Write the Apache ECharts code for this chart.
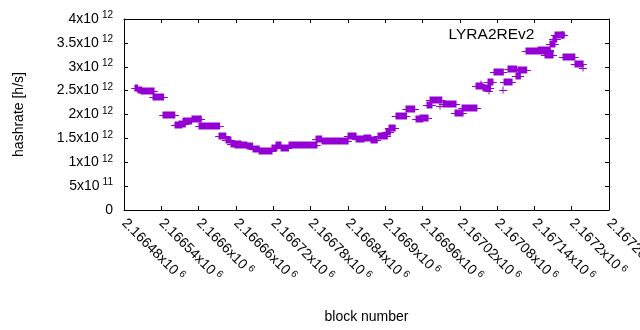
<!DOCTYPE html>
<html>
<head>
<meta charset="utf-8">
<script src="https://cdn.jsdelivr.net/npm/echarts@6/dist/echarts.min.js"></script>
<style>
  html, body { margin: 0; padding: 0; background: #fff; }
  #main { width: 640px; height: 330px; }
</style>
</head>
<body>
<div id="main"></div>
<script>
// runs of blocks that share the same hashrate estimate (start block, end block, value)
const runStart = [2166498, 2166503, 2166507, 2166527, 2166543, 2166562, 2166568, 2166575, 2166589, 2166601,
  2166633, 2166644, 2166652, 2166659, 2166678, 2166687, 2166697, 2166718, 2166724, 2166732,
  2166745, 2166789, 2166798, 2166840, 2166853, 2166866, 2166877, 2166888, 2166901, 2166906,
  2166917, 2166934, 2166950, 2166956, 2166967, 2166972, 2166988, 2166993, 2167012, 2167024,
  2167046, 2167057, 2167054, 2167067, 2167065, 2167075, 2167090, 2167091, 2167098, 2167110,
  2167114, 2167126, 2167146, 2167157, 2167165, 2167170, 2167173, 2167186, 2167205, 2167218];
const runEnd = [2166502, 2166509, 2166528, 2166544, 2166562, 2166573, 2166578, 2166589, 2166604, 2166634,
  2166644, 2166652, 2166668, 2166678, 2166687, 2166697, 2166718, 2166726, 2166732, 2166744,
  2166790, 2166798, 2166840, 2166853, 2166866, 2166877, 2166887, 2166903, 2166908, 2166916,
  2166934, 2166948, 2166961, 2166969, 2166975, 2166991, 2166988, 2167014, 2167025, 2167048,
  2167057, 2167069, 2167054, 2167067, 2167073, 2167090, 2167090, 2167104, 2167112, 2167117,
  2167128, 2167165, 2167165, 2167170, 2167173, 2167176, 2167188, 2167205, 2167218, 2167218];
const runHash = [2.56e12, 2.52e12, 2.49e12, 2.36e12, 2.00e12, 1.78e12, 1.81e12, 1.86e12, 1.91e12, 1.76e12,
  1.55e12, 1.47e12, 1.38e12, 1.36e12, 1.34e12, 1.28e12, 1.23e12, 1.29e12, 1.36e12, 1.30e12,
  1.36e12, 1.49e12, 1.445e12, 1.55e12, 1.48e12, 1.51e12, 1.47e12, 1.55e12, 1.64e12, 1.71e12,
  1.97e12, 2.11e12, 1.90e12, 1.93e12, 2.19e12, 2.30e12, 2.18e12, 2.22e12, 2.03e12, 2.13e12,
  2.60e12, 2.55e12, 2.63e12, 2.50e12, 2.69e12, 2.89e12, 2.51e12, 2.69e12, 2.96e12, 2.81e12,
  2.94e12, 3.32e12, 3.35e12, 3.25e12, 3.48e12, 3.58e12, 3.66e12, 3.20e12, 3.05e12, 2.97e12];

const yTicks = ['0', '5x10{sup|11}', '1x10{sup|12}', '1.5x10{sup|12}', '2x10{sup|12}',
  '2.5x10{sup|12}', '3x10{sup|12}', '3.5x10{sup|12}', '4x10{sup|12}'];

const purple = '#9400d3';
const font = 'Liberation Sans, Arial, sans-serif';
const sup = { fontSize: 10, fontFamily: font, color: '#000', padding: [0, 0, 7, 3] };
const plusIcon = 'path://M0,5H10M5,0V10';

const runs = runStart.map((s, i) => [s, runEnd[i], runHash[i]]);

const chart = echarts.init(document.getElementById('main'), null, { renderer: 'canvas' });

const xCommon = {
  type: 'value',
  min: 2166480,
  max: 2167260,
  interval: 60,
  splitLine: { show: false },
  axisLine: { show: true, onZero: false, lineStyle: { color: '#000', width: 1 } },
  axisTick: { show: true, inside: true, length: 4, lineStyle: { color: '#000' } }
};
const yCommon = {
  type: 'value',
  min: 0,
  max: 4e12,
  interval: 0.5e12,
  splitLine: { show: false },
  axisLine: { show: true, onZero: false, lineStyle: { color: '#000', width: 1 } },
  axisTick: { show: true, inside: true, length: 4, lineStyle: { color: '#000' } }
};

chart.setOption({
  animation: false,
  backgroundColor: '#fff',
  textStyle: { fontFamily: font },
  grid: { left: 124, right: 31, top: 19, bottom: 120, containLabel: false, outerBoundsMode: 'none' },
  legend: {
    right: 68,
    top: 22,
    align: 'right',
    itemWidth: 8,
    itemHeight: 8,
    textStyle: { fontSize: 15.5, color: '#000', fontFamily: font, padding: [0, 19, 0, 0] },
    data: [{ name: 'LYRA2REv2', icon: plusIcon, itemStyle: { color: purple, borderColor: purple, borderWidth: 1.2 } }]
  },
  xAxis: [
    Object.assign({}, xCommon, {
      position: 'bottom',
      name: 'block number',
      nameLocation: 'middle',
      nameGap: 100,
      nameTextStyle: { fontSize: 14, color: '#000', fontFamily: font },
      axisLabel: {
        rotate: -45,
        margin: 11,
        fontSize: 14,
        color: '#000',
        fontFamily: font,
        formatter: v => parseFloat((v / 1e6).toFixed(5)) + 'x10{sup|6}',
        rich: { sup: sup }
      }
    }),
    Object.assign({}, xCommon, { position: 'top', axisLabel: { show: false } })
  ],
  yAxis: [
    Object.assign({}, yCommon, {
      position: 'left',
      name: 'hashrate [h/s]',
      nameLocation: 'middle',
      nameGap: 98,
      nameTextStyle: { fontSize: 14, color: '#000', fontFamily: font },
      axisLabel: {
        margin: 11,
        fontSize: 14,
        color: '#000',
        fontFamily: font,
        formatter: (v, i) => yTicks[i],
        rich: { sup: sup }
      }
    }),
    Object.assign({}, yCommon, { position: 'right', axisLabel: { show: false } })
  ],
  series: [{
    name: 'LYRA2REv2',
    type: 'custom',
    xAxisIndex: 0,
    yAxisIndex: 0,
    data: runs,
    encode: { x: [0, 1], y: 2 },
    renderItem: function (params, api) {
      const a = api.coord([api.value(0), api.value(2)]);
      const b = api.coord([api.value(1), api.value(2)]);
      const h = 3.5;
      return {
        type: 'group',
        children: [
          { type: 'rect', shape: { x: Math.round(a[0]) - 0.5, y: Math.round(a[1]) - h, width: Math.max(1, b[0] - a[0] + 1), height: 2 * h }, style: { fill: purple } },
          { type: 'line', shape: { x1: a[0] - h - 0.5, y1: Math.round(a[1]) + 0.5, x2: b[0] + h + 0.5, y2: Math.round(a[1]) + 0.5 }, style: { stroke: purple, lineWidth: 1 } }
        ]
      };
    }
  }]
});
</script>
</body>
</html>
